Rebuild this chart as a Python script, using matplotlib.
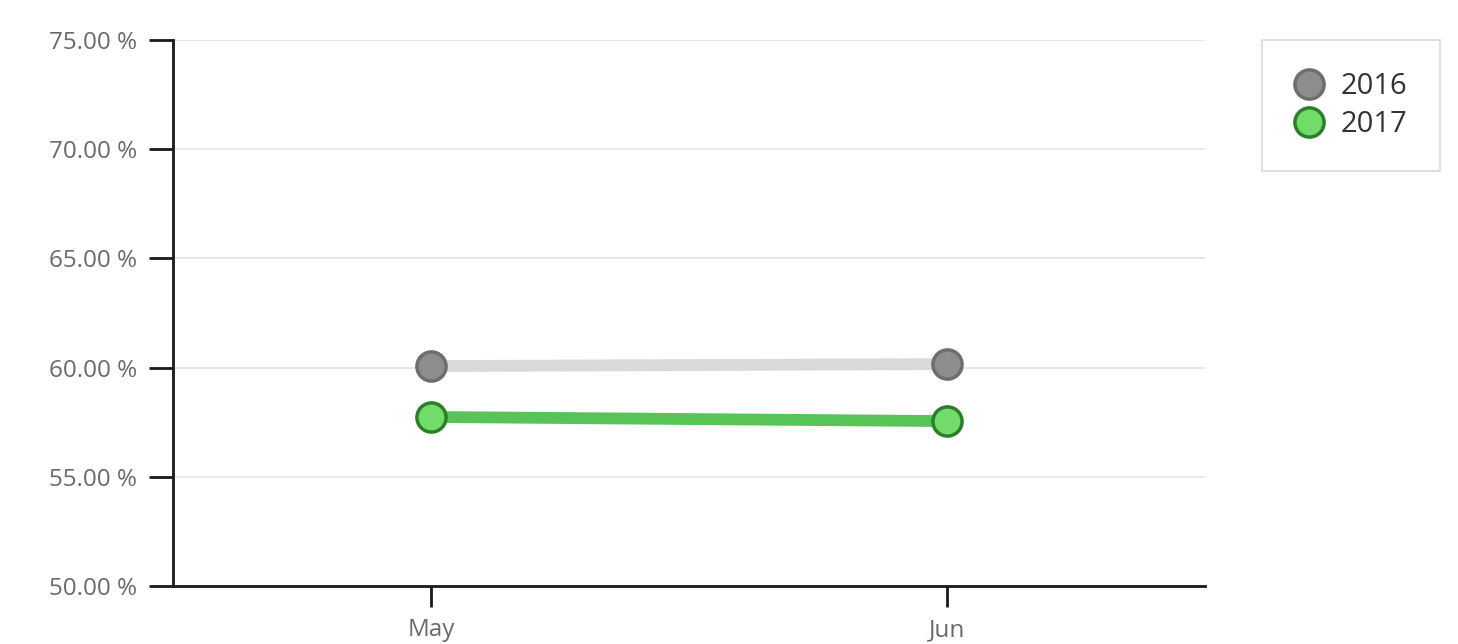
import numpy as np
import matplotlib
matplotlib.use("Agg")
import matplotlib.pyplot as plt
from matplotlib.ticker import FuncFormatter

plt.rcParams["font.family"] = ["Open Sans", "DejaVu Sans"]

months = ["May", "Jun"]
rate_2016 = [60.07, 60.16]
rate_2017 = [57.74, 57.55]
yticks = [50, 55, 60, 65, 70, 75]

fig = plt.figure(figsize=(14.58, 6.44), dpi=100)
ax = fig.add_axes([173 / 1458, 1 - 586 / 644, (1205 - 173) / 1458, (586 - 40) / 644])

x = np.arange(len(months))
ax.plot(x, rate_2016, color="#d9d9d9", lw=8.5, solid_capstyle="butt", zorder=3,
        marker="o", ms=21, mfc="#8e8c8e", mec="#6f6d6f", mew=2.5, label="2016")
ax.plot(x, rate_2017, color="#58c458", lw=8.5, solid_capstyle="butt", zorder=4,
        marker="o", ms=21, mfc="#72dc68", mec="#2b7f2b", mew=2.5, label="2017")

ax.set_xlim(-0.5, 1.5)
ax.set_ylim(50, 75)
ax.set_xticks(x)
ax.set_xticklabels(months)
ax.set_yticks(yticks)
ax.yaxis.set_major_formatter(FuncFormatter(lambda v, p: f"{v:.2f} %"))
ax.grid(axis="y", color="#e4e4e4", lw=1.2, zorder=0)
ax.set_axisbelow(True)

for s in ("top", "right"):
    ax.spines[s].set_visible(False)
for s in ("left", "bottom"):
    ax.spines[s].set_linewidth(2)
    ax.spines[s].set_color("#1a1a1a")
ax.tick_params(axis="y", length=17, width=2, color="#1a1a1a", labelsize=17.5,
               labelcolor="#6a6a6a", pad=9)
ax.tick_params(axis="x", length=15, width=2, color="#1a1a1a", labelsize=17.5,
               labelcolor="#6a6a6a", pad=8)

leg = fig.legend(loc="upper left", bbox_to_anchor=(1262 / 1458, 1 - 40 / 644),
                 frameon=True, fancybox=False, fontsize=21, handlelength=1.0,
                 borderpad=1.1, labelspacing=0.3, handletextpad=0.6,
                 borderaxespad=0, labelcolor="#333333")
leg.get_frame().set_edgecolor("#d0d0d0")
leg.get_frame().set_linewidth(1.2)
for line in leg.get_lines():
    line.set_linestyle("none")

fig.savefig("out.png", dpi=100)
